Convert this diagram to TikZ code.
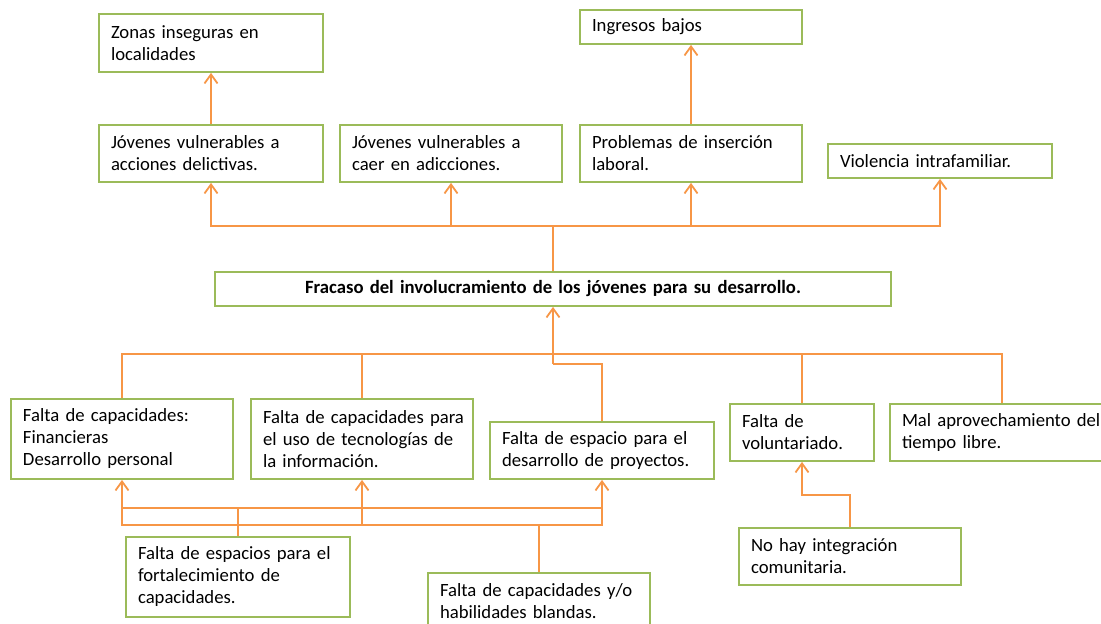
\documentclass[tikz,border=0pt]{standalone}
\usepackage{fontspec}
\setmainfont{Carlito}
\usetikzlibrary{arrows.meta}
\definecolor{boxgreen}{HTML}{9BBB59}
\definecolor{lineorange}{HTML}{F79646}
\tikzset{
  box/.style={draw=boxgreen, line width=1.8pt, fill=white, align=left,
    inner xsep=12pt, inner ysep=2pt, font=\fontsize{18.7}{22}\selectfont},
  mainbox/.style={box, align=center, font=\fontsize{18.7}{22}\selectfont\bfseries},
  conn/.style={draw=lineorange, line width=1.8pt},
  arr/.style={conn, -{Straight Barb[length=9pt,width=13pt]}}
}
\begin{document}
\begin{tikzpicture}[x=1pt,y=-1pt]
\useasboundingbox (0,0) rectangle (1101,624);
% upper level
\node[box, minimum width=224pt, text width=200pt, minimum height=58pt] (Z) at (211,43) {\mbox{Zonas inseguras en}\\localidades};
\node[box, minimum width=222pt, text width=198pt, minimum height=34pt] (I) at (691,27) {\mbox{Ingresos bajos}};
\node[box, minimum width=224pt, text width=200pt, minimum height=57pt] (J1) at (211,153.5) {\mbox{Jóvenes vulnerables a}\\\mbox{acciones delictivas.}};
\node[box, minimum width=222pt, text width=198pt, minimum height=57pt] (J2) at (451,153.5) {\mbox{Jóvenes vulnerables a}\\\mbox{caer en adicciones.}};
\node[box, minimum width=222pt, text width=198pt, minimum height=57pt] (P) at (691,153.5) {\mbox{Problemas de inserción}\\laboral.};
\node[box, minimum width=224pt, text width=200pt, minimum height=34pt] (V) at (940,161) {\mbox{Violencia intrafamiliar.}};
% central problem
\node[mainbox, minimum width=676pt, text width=652pt, minimum height=34pt] (F) at (553,289) {Fracaso del involucramiento de los jóvenes para su desarrollo.};
% causes
\node[box, minimum width=222pt, text width=198pt, minimum height=80pt] (L1) at (122,439) {\mbox{Falta de capacidades:}\\Financieras\\\mbox{Desarrollo personal}};
\node[box, minimum width=222pt, text width=198pt, minimum height=80pt] (L2) at (362,439) {\mbox{Falta de capacidades para}\\\mbox{el uso de tecnologías de}\\\mbox{la información.}};
\node[box, minimum width=224pt, text width=200pt, minimum height=57pt] (L3) at (602,450.5) {\mbox{Falta de espacio para el}\\\mbox{desarrollo de proyectos.}};
\node[box, minimum width=144pt, text width=120pt, minimum height=57pt] (L4) at (802,432.5) {\mbox{Falta de}\\\mbox{voluntariado.}};
\node[box, minimum width=224pt, text width=200pt, minimum height=57pt] (L5) at (1002,432.5) {\mbox{Mal aprovechamiento del}\\\mbox{tiempo libre.}};
\node[box, minimum width=224pt, text width=200pt, minimum height=80pt] (A) at (238,577) {\mbox{Falta de espacios para el}\\\mbox{fortalecimiento de}\\capacidades.};
\node[box, minimum width=222pt, text width=198pt, minimum height=56pt] (B) at (539,601) {\mbox{Falta de capacidades y/o}\\\mbox{habilidades blandas.}};
\node[box, minimum width=222pt, text width=198pt, minimum height=57pt] (C) at (850,556.5) {\mbox{No hay integración}\\\mbox{comunitaria.}};
% effects connectors
\draw[conn] (F.north) -- (F.north |- 0,226);
\draw[arr] (F.north |- 0,226) -| (J1.south);
\draw[arr] (F.north |- 0,226) -| (J2.south);
\draw[arr] (F.north |- 0,226) -| (P.south);
\draw[arr] (F.north |- 0,226) -| (V.south);
\draw[arr] (J1.north) -- (Z.south);
\draw[arr] (P.north) -- (I.south);
% causes connectors
\draw[arr] (F.south |- 0,364) -- (F.south);
\draw[conn] (L1.north) |- (F.south |- 0,354);
\draw[conn] (L2.north) |- (F.south |- 0,354);
\draw[conn] (L3.north) |- (F.south |- 0,364);
\draw[conn] (L4.north) |- (F.south |- 0,354);
\draw[conn] (L5.north) |- (F.south |- 0,354);
% secondary causes
\draw[conn] (A.north) -- (A.north |- 0,508);
\draw[arr] (A.north |- 0,508) -| (L1.south);
\draw[arr] (A.north |- 0,508) -| (L2.south);
\draw[arr] (A.north |- 0,508) -| (L3.south);
\draw[conn] (B.north) |- (L1.south |- 0,525) -- (L1.south |- 0,508);
\draw[conn] (B.north) |- (L3.south |- 0,525) -- (L3.south |- 0,508);
\draw[conn] (L2.south |- 0,525) -- (L2.south |- 0,508);
\draw[arr] (C.north) |- (L4.south |- 0,495) -- (L4.south);
\end{tikzpicture}
\end{document}
